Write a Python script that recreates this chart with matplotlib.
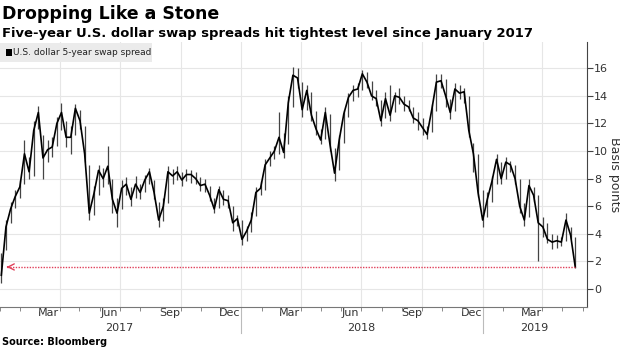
import matplotlib
matplotlib.use('Agg')
import matplotlib.pyplot as plt
import matplotlib.dates as mdates
from matplotlib.patches import Rectangle
from matplotlib.transforms import blended_transform_factory
import pandas as pd

# weekly bars (basis points)
week_start = '2017-01-03'
spread_close = [1.0, 4.5, 5.8, 6.7, 7.4, 9.8, 8.5, 11.5, 12.8, 9.5,
                10.1, 10.3, 12.0, 12.8, 11.0, 11.0, 13.1, 12.2, 9.8, 5.5,
                6.9, 8.6, 8.0, 8.9, 6.5, 5.5, 7.3, 7.6, 6.5, 7.6,
                7.0, 7.9, 8.5, 7.0, 5.0, 6.0, 8.5, 8.2, 8.5, 7.9,
                8.3, 8.3, 8.0, 7.5, 7.6, 6.8, 5.8, 7.2, 6.5, 6.4,
                4.8, 5.1, 3.6, 4.2, 5.0, 7.0, 7.3, 9.0, 9.5, 10.0,
                11.0, 9.9, 13.5, 15.5, 15.3, 13.0, 14.4, 12.6, 11.6, 10.8,
                12.8, 10.5, 8.4, 10.8, 12.7, 13.9, 14.4, 14.5, 15.6, 15.0,
                14.0, 13.8, 12.2, 13.8, 12.6, 14.0, 13.9, 13.4, 13.2, 12.4,
                12.2, 11.7, 11.2, 13.0, 15.0, 15.1, 14.0, 12.8, 14.5, 14.2,
                14.3, 11.5, 9.8, 7.0, 5.0, 6.5, 7.8, 9.4, 8.0, 9.2,
                9.0, 8.0, 6.0, 5.0, 7.5, 6.8, 4.8, 4.5, 3.6, 3.4,
                3.5, 3.4, 5.0, 3.9, 1.6]
spread_high = [2.6, 5.0, 6.3, 7.2, 7.9, 10.8, 9.6, 12.2, 13.3, 11.2,
               10.8, 11.0, 12.5, 13.5, 12.2, 11.8, 13.4, 13.0, 11.8, 9.0,
               7.5, 9.0, 8.8, 10.4, 8.0, 6.6, 7.9, 8.1, 7.4, 8.2,
               7.6, 8.3, 8.8, 7.9, 6.3, 6.6, 8.9, 8.7, 8.9, 8.5,
               8.7, 8.6, 8.5, 8.1, 8.0, 7.5, 6.6, 7.5, 7.2, 6.8,
               6.0, 5.4, 5.0, 4.6, 5.6, 7.4, 7.8, 9.4, 10.0, 10.4,
               12.8, 11.3, 14.0, 16.1, 16.0, 15.0, 14.8, 14.3, 12.9, 11.6,
               13.2, 12.7, 10.2, 11.2, 13.0, 14.2, 14.8, 14.9, 15.9, 15.7,
               15.1, 14.4, 13.7, 14.3, 14.8, 14.3, 14.6, 14.0, 13.7, 13.2,
               12.8, 12.4, 11.8, 13.4, 15.6, 15.6, 15.2, 13.8, 14.9, 14.8,
               14.6, 14.0, 10.6, 9.8, 7.2, 7.0, 8.2, 9.8, 9.2, 9.6,
               9.3, 9.0, 8.0, 6.2, 8.0, 7.4, 6.8, 5.2, 4.8, 4.0,
               3.9, 3.8, 5.5, 4.5, 3.8]
spread_low = [0.4, 2.8, 4.8, 5.9, 6.6, 7.6, 8.0, 8.2, 11.6, 8.0,
              9.2, 9.6, 10.4, 11.5, 10.3, 9.8, 11.2, 11.6, 9.2, 5.0,
              5.4, 6.8, 7.4, 7.6, 5.5, 4.5, 5.8, 6.8, 6.0, 6.6,
              6.5, 7.0, 7.6, 6.5, 4.5, 4.9, 6.2, 7.6, 7.9, 7.5,
              7.8, 7.7, 7.6, 7.1, 7.0, 6.4, 5.5, 5.9, 6.1, 5.9,
              4.2, 4.6, 3.2, 3.5, 4.1, 5.3, 6.8, 7.2, 8.9, 9.4,
              9.8, 9.5, 10.5, 13.2, 14.6, 12.5, 13.0, 12.2, 11.2, 10.5,
              10.9, 10.0, 7.8, 8.6, 10.6, 12.5, 13.6, 13.9, 14.4, 14.6,
              13.7, 13.3, 11.8, 12.4, 12.2, 12.8, 13.4, 12.9, 12.9, 12.0,
              11.5, 11.2, 10.9, 11.4, 12.9, 14.6, 13.2, 12.3, 12.9, 13.8,
              13.5, 11.0, 8.5, 6.7, 4.5, 5.2, 6.3, 7.6, 7.6, 8.0,
              8.5, 7.6, 5.5, 4.6, 5.2, 6.3, 2.0, 3.8, 3.3, 2.9,
              3.0, 3.1, 3.5, 3.6, 1.5]
tight_level = 1.6
arrow_from = '2017-01-11'

dates = pd.date_range(week_start, periods=len(spread_close), freq='7D')

fig = plt.figure(figsize=(6.2, 3.48), dpi=100)
ax = fig.add_axes([0.0, 0.118, 0.947, 0.761])

grid_col = '#e6e6e6'
for d in pd.date_range('2017-04-01', '2019-04-01', freq='QS'):
    ax.axvline(d, color=grid_col, lw=0.8, zorder=0)
ax.set_yticks(range(0, 17, 2))
ax.yaxis.grid(True, color=grid_col, lw=0.8)
ax.set_axisbelow(True)

ax.vlines(dates, spread_low, spread_high, color='#444444', lw=0.9, zorder=3)
ax.plot(dates, spread_close, color='black', lw=1.2, zorder=4)

red = '#e0405a'
ax.plot([dates[-1], pd.Timestamp(arrow_from)], [tight_level, tight_level],
        color=red, lw=1.0, ls=(0, (1, 1)), zorder=5)
ax.annotate('', xy=(pd.Timestamp(arrow_from), tight_level),
            xytext=(pd.Timestamp(arrow_from) + pd.Timedelta(days=6), tight_level),
            arrowprops=dict(arrowstyle='->', color=red, lw=1.0, mutation_scale=11),
            zorder=5)

ax.set_xlim(pd.Timestamp('2017-01-01'), pd.Timestamp('2019-06-08'))
ax.set_ylim(-1.3, 17.9)

for s in ['top', 'left']:
    ax.spines[s].set_visible(False)
ax.spines['right'].set_color('#444444')
ax.spines['bottom'].set_color('#777777')
ax.yaxis.tick_right()
ax.tick_params(axis='y', direction='out', length=4, color='#444444',
               labelsize=8, labelcolor='#333333', pad=1)
ax.set_ylabel('Basis points', rotation=270, fontsize=9, color='#333333',
              labelpad=9)
ax.yaxis.set_label_position('right')

ax.xaxis.set_major_locator(mdates.MonthLocator(bymonth=[3, 6, 9, 12], bymonthday=15))
ax.xaxis.set_major_formatter(mdates.DateFormatter('%b'))
ax.xaxis.set_minor_locator(mdates.MonthLocator(bymonthday=1))
ax.tick_params(axis='x', which='major', length=0, labelsize=8,
               labelcolor='#333333', pad=1)
ax.tick_params(axis='x', which='minor', length=3, color='#777777')

tr = blended_transform_factory(ax.transData, ax.transAxes)
year_pos = ['2017-07-01', '2018-07-01', '2019-03-20']
for lab, d in zip(['2017', '2018', '2019'], year_pos):
    ax.text(pd.Timestamp(d), -0.062, lab, transform=tr, ha='center', va='top',
            fontsize=8, color='#333333')
for d in ['2018-01-01', '2019-01-01']:
    ax.plot([pd.Timestamp(d)] * 2, [0, -0.1], transform=tr, color='#bbbbbb',
            lw=0.8, clip_on=False)

fig.text(0.003, 0.96, 'Dropping Like a Stone', fontsize=12.5, weight='bold',
         ha='left', va='center')
fig.text(0.003, 0.905, 'Five-year U.S. dollar swap spreads hit tightest level since January 2017',
         fontsize=9.45, weight='bold', ha='left', va='center')
fig.text(0.003, 0.004, 'Source: Bloomberg', fontsize=7, weight='bold',
         ha='left', va='bottom')

fig.add_artist(Rectangle((0.0, 0.822), 0.245, 0.055, transform=fig.transFigure,
                         facecolor='#ebebeb', edgecolor='none'))
fig.add_artist(Rectangle((0.01, 0.84), 0.009, 0.018, transform=fig.transFigure,
                         facecolor='black', edgecolor='none'))
fig.text(0.021, 0.849, 'U.S. dollar 5-year swap spread', fontsize=6.5,
         color='#222222', ha='left', va='center')

fig.savefig('out.png', dpi=100)
